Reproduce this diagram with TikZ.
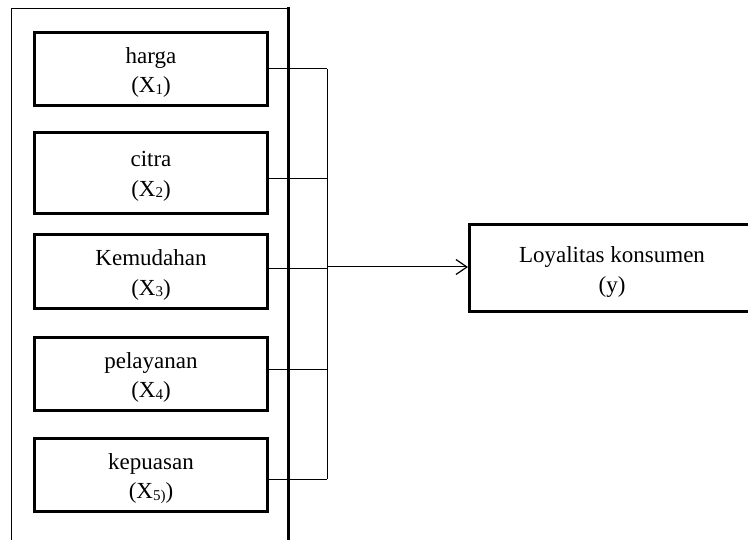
\documentclass[tikz,border=0pt]{standalone}
\usepackage{fontspec}
\setmainfont{Liberation Serif}
\usetikzlibrary{arrows.meta}
\newcommand{\sbx}[1]{\raisebox{-1.5pt}{\fontsize{15}{15}\selectfont #1}}
\begin{document}
\begin{tikzpicture}[x=1pt,y=-1pt,
  varbox/.style={draw, line width=3pt, minimum width=233pt, inner sep=0pt},
  ybox/.style={draw, line width=3pt, minimum width=285pt, minimum height=87pt, inner sep=0pt},
  vtext/.style={align=center, inner sep=0pt, font=\fontsize{23}{29.5}\selectfont},
  link/.style={line width=1pt},
  frameline/.style={line width=1pt},
  framethick/.style={line width=3pt},
  arr/.style={line width=1pt, -{Straight Barb[length=11pt,width=15pt,line width=1.2pt]}},
]
\useasboundingbox (0,0) rectangle (748,540);
\clip (0,0) rectangle (748,540);
\fill[white] (0,0) rectangle (748,540);

% outer frame (open at the bottom)
\draw[frameline] (11,545) -- (11,8.5) -- (288,8.5);
\draw[framethick] (288,7) -- (288,545);

% variable boxes
\node[varbox, minimum height=73pt] (b1) at (151,69) {};
\node[varbox, minimum height=81pt] (b2) at (151,173) {};
\node[varbox, minimum height=74pt] (b3) at (151,271.5) {};
\node[varbox, minimum height=73pt] (b4) at (151,374) {};
\node[varbox, minimum height=73pt] (b5) at (151,475) {};

\node[vtext] (t1) at ([yshift=-3.5pt]b1.center) {harga\\(X\sbx{1})};
\node[vtext] (t2) at ([yshift=-3.5pt]b2.center) {citra\\(X\sbx{2})};
\node[vtext] (t3) at ([yshift=-3.5pt]b3.center) {Kemudahan\\(X\sbx{3})};
\node[vtext] (t4) at ([yshift=-3.5pt]b4.center) {pelayanan\\(X\sbx{4})};
\node[vtext] (t5) at ([yshift=-3.5pt]b5.center) {kepuasan\\(X\sbx{5)})};

% dependent variable box
\node[ybox] (y) at (612,268) {};
\node[vtext] (ty) at ([yshift=-4pt]y.center) {Loyalitas konsumen\\(y)};

% bus coordinates
\coordinate (c1) at (327,69);
\coordinate (c2) at (327,179);
\coordinate (c3) at (327,269);
\coordinate (c4) at (327,370);
\coordinate (c5) at (327,479);
\coordinate (ca) at (327,267);

\draw[link] (b1.east |- c1) -- (c1);
\draw[link] (b2.east |- c2) -- (c2);
\draw[link] (b3.east |- c3) -- (c3);
\draw[link] (b4.east |- c4) -- (c4);
\draw[link] (b5.east |- c5) -- (c5);
\draw[link] (c1) -- (c5);
\draw[arr] (ca) -- (ca -| y.west);
\end{tikzpicture}
\end{document}
